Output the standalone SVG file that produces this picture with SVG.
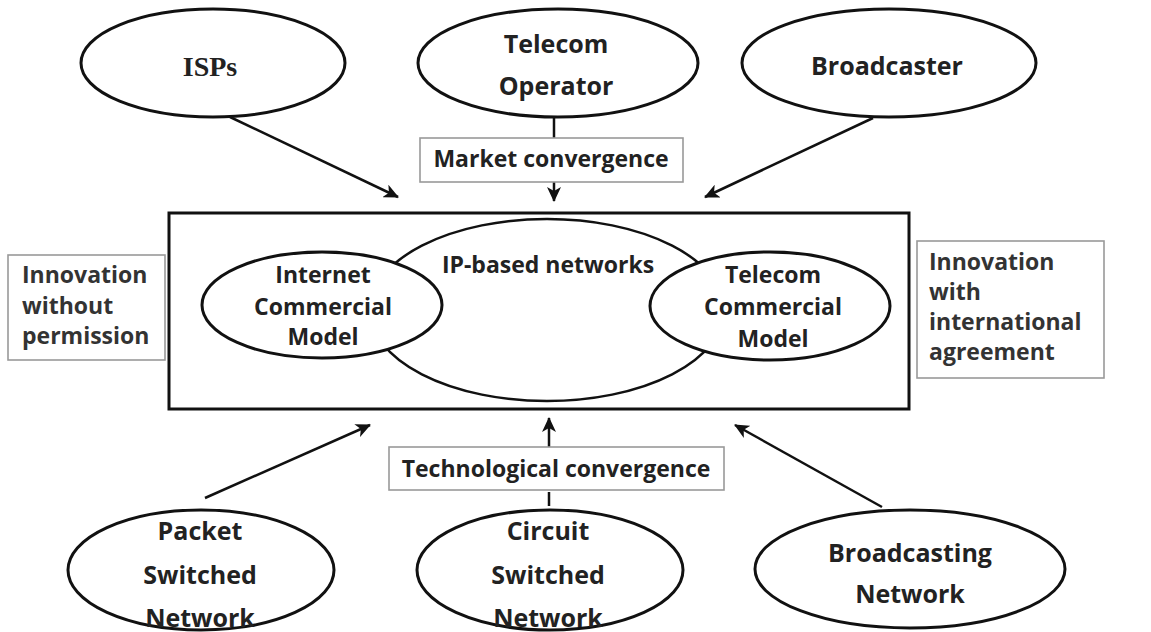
<svg xmlns="http://www.w3.org/2000/svg" width="1151" height="632" viewBox="0 0 1151 632">
<style>
.ell{fill:#fff;stroke:#111;stroke-width:3}
.inner{fill:none;stroke:#111;stroke-width:2.5}
.box{fill:#fff;stroke:#999;stroke-width:1.6}
.lbl{font-family:"Open Sans","Liberation Sans",sans-serif;font-weight:bold;font-size:25px;fill:#222;text-anchor:middle}
.sm{font-size:23px}
.blbl{font-family:"Open Sans","Liberation Sans",sans-serif;font-weight:bold;font-size:23px;fill:#333}
.conn{stroke:#111;stroke-width:2.5;fill:none}
</style>
<defs>
<marker id="ah" markerUnits="userSpaceOnUse" markerWidth="16" markerHeight="14" refX="14" refY="7" orient="auto">
<path d="M0,0 L15,7 L0,14 L4,7 Z" fill="#111"/>
</marker>
</defs>
<rect width="1151" height="632" fill="#fff"/>

<g id="connectors">
<line class="conn" x1="230" y1="117" x2="398" y2="197" marker-end="url(#ah)"/>
<line class="conn" x1="873" y1="118" x2="705" y2="197" marker-end="url(#ah)"/>
<line class="conn" x1="554" y1="118" x2="554" y2="138"/>
<line class="conn" x1="554" y1="182" x2="554" y2="201" marker-end="url(#ah)"/>
<line class="conn" x1="205" y1="498" x2="370" y2="425" marker-end="url(#ah)"/>
<line class="conn" x1="882" y1="507" x2="735" y2="425" marker-end="url(#ah)"/>
<line class="conn" x1="549" y1="447" x2="549" y2="418" marker-end="url(#ah)"/>
<line class="conn" x1="549" y1="492" x2="549" y2="506"/>
</g>

<g id="isps">
<ellipse class="ell" cx="213" cy="63" rx="132" ry="54"/>
<text x="210" y="76" style="font-family:'Liberation Serif',serif;font-weight:bold;font-size:28px;fill:#222;text-anchor:middle">ISPs</text>
</g>
<g id="telecom-operator">
<ellipse class="ell" cx="558" cy="63" rx="140" ry="54"/>
<text class="lbl" x="556" y="53">Telecom</text>
<text class="lbl" x="556" y="95">Operator</text>
</g>
<g id="broadcaster">
<ellipse class="ell" cx="889" cy="63" rx="147" ry="54"/>
<text class="lbl" x="887" y="75">Broadcaster</text>
</g>

<g id="market-convergence">
<rect class="box" x="420" y="138" width="263" height="44"/>
<text class="lbl sm" x="551" y="167">Market convergence</text>
</g>

<g id="platform">
<rect x="169" y="213" width="740" height="196" fill="none" stroke="#111" stroke-width="3"/>
</g>
<g id="ip-based-networks">
<ellipse class="inner" cx="547" cy="310" rx="177" ry="91"/>
<text class="lbl sm" x="548" y="273">IP-based networks</text>
</g>
<g id="internet-commercial-model">
<ellipse class="ell" cx="322" cy="305" rx="120" ry="53" stroke-width="2.5"/>
<text class="lbl sm" x="323" y="283">Internet</text>
<text class="lbl sm" x="323" y="315">Commercial</text>
<text class="lbl sm" x="323" y="345">Model</text>
</g>
<g id="telecom-commercial-model">
<ellipse class="ell" cx="770" cy="306" rx="120" ry="54" stroke-width="2.5"/>
<text class="lbl sm" x="773" y="283">Telecom</text>
<text class="lbl sm" x="773" y="315">Commercial</text>
<text class="lbl sm" x="773" y="347">Model</text>
</g>

<g id="innovation-without-permission">
<rect class="box" x="8" y="255" width="157" height="105"/>
<text class="blbl" x="22" y="283">Innovation</text>
<text class="blbl" x="22" y="314">without</text>
<text class="blbl" x="22" y="344">permission</text>
</g>
<g id="innovation-with-agreement">
<rect class="box" x="917" y="241" width="187" height="137"/>
<text class="blbl" x="929" y="270">Innovation</text>
<text class="blbl" x="929" y="300">with</text>
<text class="blbl" x="929" y="330">international</text>
<text class="blbl" x="929" y="360">agreement</text>
</g>

<g id="technological-convergence">
<rect class="box" x="389" y="447" width="335" height="43"/>
<text class="lbl sm" x="556" y="477">Technological convergence</text>
</g>

<g id="packet-switched-network">
<ellipse class="ell" cx="201" cy="570" rx="133" ry="60"/>
<text class="lbl" x="200" y="540">Packet</text>
<text class="lbl" x="200" y="584">Switched</text>
<text class="lbl" x="200" y="627">Network</text>
</g>
<g id="circuit-switched-network">
<ellipse class="ell" cx="550" cy="570" rx="133" ry="60"/>
<text class="lbl" x="548" y="540">Circuit</text>
<text class="lbl" x="548" y="584">Switched</text>
<text class="lbl" x="548" y="627">Network</text>
</g>
<g id="broadcasting-network">
<ellipse class="ell" cx="910" cy="569" rx="155" ry="59"/>
<text class="lbl" x="910" y="562">Broadcasting</text>
<text class="lbl" x="910" y="603">Network</text>
</g>
</svg>
